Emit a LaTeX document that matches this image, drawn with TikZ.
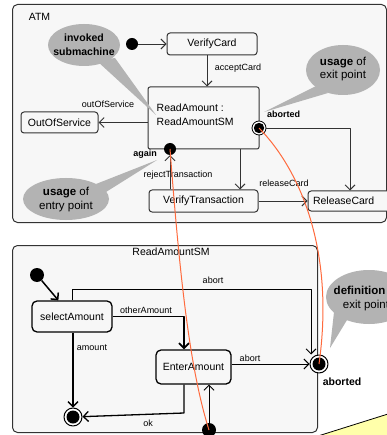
\documentclass[tikz,border=0pt]{standalone}
\usepackage{fontspec}
\setmainfont{Liberation Sans}
\usetikzlibrary{arrows.meta}
\definecolor{linec}{HTML}{333333}
\definecolor{bgc}{HTML}{F7F7F7}
\definecolor{callc}{HTML}{B3B3B3}
\definecolor{orangec}{HTML}{FF6A3D}
\definecolor{notey}{HTML}{FFFFAA}
\begin{document}
\begin{tikzpicture}[x=1pt,y=-1pt,line join=round,
  frame/.style={draw=linec,line width=1pt,fill=bgc,rounded corners=5pt},
  box/.style={draw=linec,line width=1pt,fill=bgc,rounded corners=3pt,inner sep=0pt,font=\fontsize{10.5}{12}\selectfont},
  sbox/.style={draw=black,line width=1.3pt,fill=bgc,rounded corners=5pt,inner sep=0pt,font=\fontsize{10.5}{12}\selectfont},
  tr/.style={draw=linec,line width=0.9pt,-{Straight Barb[length=5pt,width=10pt]}},
  trb/.style={draw=black,line width=1.3pt,-{Straight Barb[length=5pt,width=10pt]}},
  lab/.style={inner sep=0pt,font=\fontsize{9}{10}\selectfont},
  blab/.style={inner sep=0pt,font=\fontsize{9}{10}\selectfont\bfseries},
  initial/.style={circle,fill=black,inner sep=0pt},
  exitpt/.style={circle,draw=black,fill=white,inner sep=0pt,
     path picture={\fill[black] (path picture bounding box.center) circle (#1);}},
  calltext/.style={inner sep=0pt,align=center,text=black},
  orl/.style={draw=orangec,line width=1pt}
]
\useasboundingbox (0,0) rectangle (386,435);
\fill[white] (0,0) rectangle (386,435);

% ---------- ATM frame ----------
\draw[frame] (12.5,4.5) rectangle (386.5,222.5);
\node[inner sep=0pt,font=\fontsize{10.5}{12}\selectfont] (atm) at (39.5,17) {ATM};

\node[initial,minimum size=12pt] (i1) at (132,44) {};
\node[box,minimum width=90pt,minimum height=22pt] (vc) at (212,44) {VerifyCard};
\draw[tr] (i1) -- (vc);

\node[box,rounded corners=2pt,minimum width=111pt,minimum height=62pt] (ra) at (203.5,118) {};
\node[inner sep=0pt,anchor=west,align=left,font=\fontsize{10.5}{14}\selectfont] (ratext) at (156.5,115) {ReadAmount :\\ReadAmountSM};
\draw[tr] ([xshift=-5pt]vc.south) -- ([xshift=-5pt]vc.south |- ra.north);
\node[lab] (lac) at (238,68) {acceptCard};

\node[box,minimum width=77pt,minimum height=21pt] (oos) at (59.5,122.5) {OutOfService};
\draw[tr] (ra.west |- oos.east) -- (oos.east);
\node[lab] (loos) at (108,104) {outOfService};

\node[box,minimum width=109pt,minimum height=22pt] (vt) at (203.5,201) {VerifyTransaction};
\node[box,minimum width=84pt,minimum height=20pt,text width=74pt,align=left] (rc) at (350,201) {ReleaseCard};

\node[initial,minimum size=12pt] (again) at (170,149) {};
\node[exitpt=5.2pt,minimum size=14pt,line width=0.8pt] (ex1) at (259,128) {};
\node[blab] (lagain) at (145,154) {again};
\node[blab] (lab1) at (283.5,114) {aborted};

\draw[tr] (vt.north -| again) -- (again);
\node[lab] (lrej) at (178,175) {rejectTransaction};
\draw[tr] ([xshift=36.5pt]ra.south) -- ([xshift=36.5pt]ra.south |- vt.north);
\draw[tr] (vt.east) -- (vt.east -| rc.west);
\node[lab] (lrel) at (284,183) {releaseCard};
\draw[tr] (ex1.east) -| (rc.north);

% ---------- ReadAmountSM frame ----------
\draw[frame] (12.5,245.5) rectangle (317.5,432.5);
\node[inner sep=0pt,font=\fontsize{10.5}{12}\selectfont] (smt) at (171,252) {ReadAmountSM};

\node[initial,minimum size=14pt] (i2) at (37,275) {};
\node[sbox,minimum width=80pt,minimum height=31pt] (sa) at (72,316.5) {selectAmount};
\node[sbox,minimum width=75pt,minimum height=34pt] (ea) at (193.5,367) {EnterAmount};
\node[exitpt=6.5pt,minimum size=18pt,line width=1pt] (fin) at (73,417) {};
\node[exitpt=6.5pt,minimum size=18pt,line width=1pt] (ex2) at (319,364) {};
\node[initial,minimum size=14pt] (en2) at (209,430) {};

\draw[trb,line width=1.5pt] (i2) -- (sa);
\coordinate (abc) at (311,289);
\draw[tr,draw=black] (sa.north) |- (abc) -- (abc |- ex2.north);
\node[lab] (labort1) at (213,280) {abort};
\draw[trb,line width=1.8pt] (sa.east) -| ([xshift=-9.5pt]ea.north);
\node[lab] (lother) at (146,310) {otherAmount};
\draw[trb] (sa.south -| fin) -- (fin);
\node[lab] (lamount) at (92,348) {amount};
\coordinate (okc) at (184,413);
\draw[trb] (ea.south -| okc) -- (okc) -- (fin);
\node[lab] (lok) at (148,423) {ok};
\draw[tr,draw=black] (ea.east |- ex2) -- (ex2);
\node[lab] (labort2) at (250,358) {abort};
\draw[tr,draw=black] (en2) -- (en2 |- ea.south);
\node[inner sep=0pt,font=\fontsize{10.5}{12}\selectfont\bfseries] (lab2) at (342,382) {aborted};

% ---------- callouts ----------
\fill[callc] (84,45) ellipse [x radius=36, y radius=21];
\fill[callc] (97,61) -- (156,115) -- (115,58) -- cycle;
\node[calltext,font=\fontsize{10.5}{14}\selectfont\bfseries] (c1) at (84,45) {invoked\\submachine};

\fill[callc] (343,70) ellipse [x radius=37, y radius=25];
\fill[callc] (316,86) -- (264,112) -- (328,93) -- cycle;
\node[calltext,font=\fontsize{11.5}{13}\selectfont] (c2) at (343,69) {\textbf{usage} of\\exit point};

\fill[callc] (66,199) ellipse [x radius=43, y radius=21];
\fill[callc] (96,184) -- (157,160) -- (106,192) -- cycle;
\node[calltext,font=\fontsize{11.5}{14}\selectfont] (c3) at (66,200) {\textbf{usage} of\\entry point};

\fill[callc] (369,297) ellipse [x radius=43, y radius=27];
\fill[callc] (334,312) -- (330,348) -- (347,320) -- cycle;
\node[calltext,font=\fontsize{11.5}{14}\selectfont] (c4) at (366,299) {\textbf{definition} of\\exit point};

% ---------- note ----------
\filldraw[fill=notey,draw=black,line width=0.8pt] (318,436) -- (388,414) -- (388,436) -- cycle;

% ---------- orange links ----------
\draw[orl] (ex1.center) .. controls (300,170) and (335,250) .. (ex2.center);
\draw[orl] (again.center) .. controls (180,280) and (190,370) .. (en2.center);
\end{tikzpicture}
\end{document}
